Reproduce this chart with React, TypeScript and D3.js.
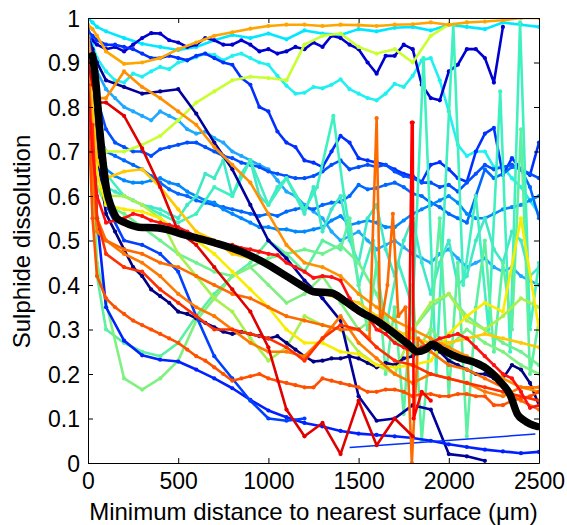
import React, { useEffect, useRef } from 'react';
import * as d3 from 'd3';

// distance grids (µm)
const distGrid = [0, 25, 50, 100, 200, 300, 400, 500, 600, 700, 800, 900, 1000, 1100, 1200, 1300, 1400, 1500, 1600, 1700, 1800, 1900, 2000, 2100, 2200, 2300, 2400, 2500];
const fineGrid = [0, 25, 50, 100, 150, 200, 250, 300, 350, 400, 450, 500, 550, 600, 650, 700, 750, 800, 850, 900, 950, 1000, 1050, 1100, 1150, 1200, 1250, 1300, 1350, 1400, 1450, 1500, 1550, 1600, 1650, 1700, 1750, 1800, 1850, 1900, 1950, 2000, 2050, 2100, 2150, 2200, 2250, 2300, 2350, 2400, 2450, 2500];

const xTicks = [0, 500, 1000, 1500, 2000, 2500];
const xTickLabels = ['0', '500', '1000', '1500', '2000', '2500'];
const yTicks = [0, 0.1, 0.2, 0.3, 0.4, 0.5, 0.6, 0.7, 0.8, 0.9, 1];
const yTickLabels = ['0', '0.1', '0.2', '0.3', '0.4', '0.5', '0.6', '0.7', '0.8', '0.9', '1'];

// traces on distGrid
const orangeTop = [0.985, 0.975, 0.96, 0.925, 0.897, 0.9, 0.91, 0.93, 0.945, 0.96, 0.968, 0.976, 0.982, 0.985, 0.985, 0.982, 0.985, 0.984, 0.982, 0.985, 0.986, 0.99, 0.985, 0.99, 0.992, 0.995, 1.0, 1.0];
const cyanTop = [1.0, 0.99, 0.98, 0.97, 0.955, 0.942, 0.935, 0.928, 0.935, 0.95, 0.962, 0.955, 0.965, 0.952, 0.972, 0.965, 0.962, 0.975, 0.97, 0.978, 0.98, 0.972, 0.985, 0.98, 0.975, 0.99, 0.985, 0.98];
const navy1 = [0.96, 0.93, 0.9, 0.86, 0.845, 0.83, 0.835, 0.84, 0.785, 0.72, 0.66, 0.58, 0.5, 0.46, 0.41, 0.37, 0.32, 0.15, 0.095, 0.1, 0.13, 0.12, 0.02, 0.015, 0.005, null, null, null];
const blueLow = [0.98, 0.8, 0.55, 0.35, 0.275, 0.242, 0.232, 0.228, 0.21, 0.19, 0.168, 0.142, 0.118, 0.103, 0.09, 0.082, 0.072, 0.066, 0.063, 0.06, 0.056, 0.05, 0.042, 0.036, 0.03, 0.026, 0.022, 0.025];
const blueEarly = [0.97, 0.9, 0.75, 0.58, 0.5, 0.49, 0.47, 0.43, 0.33, 0.24, 0.19, 0.14, 0.1, 0.095, 0.1, null, null, null, null, null, null, null, null, null, null, null, null, null];
const lightGreen = [0.95, 0.7, 0.45, 0.36, 0.19, 0.165, 0.19, 0.23, 0.32, 0.37, 0.42, 0.44, 0.4, 0.36, 0.38, 0.42, 0.36, 0.3, 0.33, 0.28, 0.24, 0.3, 0.26, 0.3, 0.27, 0.25, 0.22, 0.2];
const yellow = [0.93, 0.8, 0.65, 0.58, 0.57, 0.565, 0.55, 0.52, 0.5, 0.47, 0.43, 0.39, 0.35, 0.3, 0.27, 0.27, 0.25, 0.245, 0.22, 0.215, 0.22, 0.23, 0.29, 0.33, 0.36, 0.34, 0.55, 0.3];
const yellowOrange = [0.95, 0.8, 0.68, 0.64, 0.655, 0.66, 0.62, 0.57, 0.52, 0.5, 0.47, 0.46, 0.45, 0.42, 0.4, 0.38, 0.37, 0.36, 0.33, 0.3, 0.28, 0.27, 0.27, 0.28, 0.29, 0.28, 0.27, 0.26];
const orangeMid = [0.96, 0.88, 0.82, 0.82, 0.88, 0.845, 0.82, 0.79, 0.76, 0.71, 0.67, 0.63, 0.56, 0.49, 0.45, 0.44, 0.42, 0.38, 0.35, 0.32, 0.3, 0.28, 0.26, 0.24, 0.22, 0.19, 0.17, 0.16];
const red = [0.9, 0.85, 0.81, 0.81, 0.78, 0.707, 0.62, 0.52, 0.49, 0.44, 0.39, 0.34, 0.26, 0.12, 0.06, 0.09, 0.02, 0.14, 0.04, 0.1, 0.06, null, null, null, null, null, null, null];
const redOrange2 = [0.73, 0.76, 0.55, 0.47, 0.44, 0.43, 0.39, 0.36, 0.33, 0.3, 0.3, 0.29, 0.28, 0.26, 0.23, 0.28, 0.31, 0.3, 0.26, 0.23, 0.22, 0.2, 0.19, 0.18, 0.17, 0.16, 0.15, 0.14];
const orange2 = [0.9, 0.65, 0.52, 0.5, 0.47, 0.45, 0.42, 0.38, 0.35, 0.33, 0.3, 0.27, 0.25, 0.25, 0.24, 0.28, 0.33, 0.27, 0.235, 0.2, 0.18, 0.2, 0.19, 0.18, 0.16, 0.15, 0.17, 0.17];
const lime = [0.9, 0.75, 0.62, 0.6, 0.6, 0.58, 0.55, 0.47, 0.42, 0.37, 0.34, 0.28, 0.23, 0.26, 0.33, 0.31, 0.3, 0.25, 0.22, 0.2, 0.3, 0.36, 0.38, 0.32, 0.3, 0.33, 0.37, 0.35];
const greenMid = [0.92, 0.75, 0.62, 0.58, 0.56, 0.53, 0.5, 0.47, 0.45, 0.43, 0.42, 0.44, 0.46, 0.47, 0.48, 0.47, 0.49, 0.45, 0.38, 0.28, 0.3, 0.35, 0.38, 0.33, 0.3, 0.27, 0.25, 0.22];
const yellowGreen = [0.8, 0.78, 0.74, 0.7, 0.7, 0.715, 0.735, 0.77, 0.81, 0.835, 0.86, 0.868, 0.865, 0.86, 0.94, 0.96, 0.965, 0.935, 0.92, 0.93, 0.9, 0.96, 0.985, 0.99, null, null, null, null];

// traces on fineGrid
const cyanWave = [0.97, 0.94, 0.91, 0.88, 0.86, 0.855, 0.875, 0.868, 0.88, 0.89, 0.885, 0.9, 0.905, 0.912, 0.92, 0.917, 0.905, 0.915, 0.92, 0.91, 0.9, 0.895, 0.87, 0.848, 0.83, 0.832, 0.845, 0.842, 0.85, 0.862, 0.84, 0.83, 0.82, 0.815, 0.83, 0.852, 0.845, 0.87, 0.905, 0.91, 0.86, 0.79, 0.715, 0.69, 0.7, 0.7, 0.665, 0.665, 0.64, 0.62, 0.59, 0.56];
const navyTop = [0.96, 0.95, 0.94, 0.93, 0.935, 0.925, 0.94, 0.955, 0.966, 0.965, 0.95, 0.945, 0.935, 0.94, 0.955, 0.95, 0.94, 0.94, 0.95, 0.94, 0.925, 0.93, 0.92, 0.925, 0.935, 0.93, 0.945, 0.935, 0.96, 0.955, 0.94, 0.93, 0.9, 0.875, 0.915, 0.915, 0.94, 0.93, 0.85, 0.82, 0.815, 0.88, 0.895, 0.93, 0.93, 0.91, 0.855, 0.98, null, null, null, null];
const blueDrop = [0.97, 0.96, 0.95, 0.94, 0.94, 0.935, 0.93, 0.92, 0.91, 0.91, 0.915, 0.91, 0.905, 0.915, 0.92, 0.91, 0.9, 0.895, 0.865, 0.85, 0.8, 0.79, 0.745, 0.72, 0.71, 0.68, 0.675, 0.665, 0.7, 0.735, 0.72, 0.685, 0.68, 0.675, 0.67, 0.66, 0.65, 0.645, 0.632, 0.67, 0.676, 0.66, 0.64, 0.632, 0.7, 0.74, 0.753, 0.647, 0.685, 0.66, 0.647, 0.72];
const blue2 = [0.95, 0.9, 0.82, 0.75, 0.72, 0.71, 0.7, 0.7, 0.69, 0.705, 0.71, 0.715, 0.72, 0.72, 0.71, 0.7, 0.69, 0.685, 0.675, 0.67, 0.665, 0.655, 0.65, 0.645, 0.64, 0.64, 0.645, 0.655, 0.67, 0.68, 0.66, 0.665, 0.67, 0.665, 0.67, 0.655, 0.645, 0.64, 0.63, 0.63, 0.62, 0.625, 0.61, 0.63, 0.65, 0.67, 0.66, 0.665, 0.67, 0.66, 0.65, 0.64];
const blue3 = [0.93, 0.85, 0.75, 0.7, 0.69, 0.68, 0.67, 0.66, 0.645, 0.63, 0.615, 0.605, 0.6, 0.59, 0.585, 0.58, 0.575, 0.57, 0.565, 0.56, 0.555, 0.56, 0.555, 0.565, 0.57, 0.575, 0.57, 0.58, 0.585, 0.587, 0.6, 0.625, 0.615, 0.618, 0.625, 0.63, 0.62, 0.605, 0.6, 0.585, 0.575, 0.56, 0.55, 0.54, 0.6, 0.66, 0.64, 0.65, 0.665, 0.66, 0.62, 0.55];
const lightBlue = [0.95, 0.85, 0.72, 0.66, 0.645, 0.635, 0.63, 0.63, 0.635, 0.64, 0.63, 0.625, 0.61, 0.6, 0.59, 0.585, 0.57, 0.56, 0.55, 0.54, 0.53, 0.53, 0.525, 0.525, 0.52, 0.52, 0.525, 0.53, 0.545, 0.555, 0.535, 0.54, 0.545, 0.54, 0.53, 0.53, 0.545, 0.56, 0.57, 0.58, 0.59, 0.6, 0.585, 0.56, 0.55, 0.55, 0.56, 0.57, 0.575, 0.58, 0.59, 0.6];
const skyBlue = [0.97, 0.93, 0.88, 0.84, 0.82, 0.8, 0.79, 0.78, 0.77, 0.79, 0.78, 0.77, 0.75, 0.74, 0.745, 0.73, 0.72, 0.7, 0.69, 0.68, 0.67, 0.66, 0.635, 0.61, 0.6, 0.58, 0.565, 0.55, 0.52, 0.5, 0.51, 0.52, 0.5, 0.48, 0.49, 0.5, 0.485, 0.47, 0.46, 0.45, 0.47, 0.48, 0.46, 0.44, 0.45, 0.46, 0.44, 0.43, 0.44, 0.42, 0.41, 0.4];
const aquaMid = [0.9, 0.8, 0.7, 0.62, 0.61, 0.6, 0.59, 0.58, 0.575, 0.57, 0.56, 0.55, 0.58, 0.6, 0.65, 0.64, 0.68, 0.6, 0.65, 0.68, 0.6, 0.58, 0.62, 0.64, 0.6, 0.56, 0.62, 0.52, 0.57, 0.6, 0.5, 0.45, 0.55, 0.58, 0.48, 0.42, 0.5, 0.55, 0.45, 0.38, 0.45, 0.5, 0.4, 0.42, 0.5, 0.55, 0.48, 0.45, 0.52, 0.5, 0.42, 0.44];
const navy2 = [0.95, 0.85, 0.7, 0.56, 0.52, 0.48, 0.44, 0.42, 0.39, 0.375, 0.36, 0.34, 0.335, 0.325, 0.315, 0.305, 0.295, 0.29, 0.295, 0.29, 0.285, 0.28, 0.285, 0.27, 0.255, 0.24, 0.228, 0.23, 0.235, 0.235, 0.24, 0.235, 0.225, 0.215, 0.225, 0.22, 0.235, 0.24, 0.255, 0.26, 0.25, 0.23, 0.22, 0.21, 0.2, 0.2, 0.19, 0.19, 0.22, 0.21, 0.18, 0.13];
const red2 = [0.85, 0.7, 0.6, 0.54, 0.545, 0.55, 0.56, 0.555, 0.545, 0.54, 0.535, 0.53, 0.52, 0.51, 0.5, 0.5, 0.49, 0.49, 0.483, 0.48, 0.475, 0.47, 0.467, 0.45, 0.44, 0.43, 0.416, 0.42, 0.418, 0.41, 0.37, 0.34, 0.33, 0.3, 0.29, 0.27, 0.26, 0.25, 0.26, 0.27, 0.28, 0.285, 0.29, 0.28, 0.26, 0.24, 0.22, 0.2, 0.19, 0.16, 0.124, 0.13];
const redOrange = [0.8, 0.55, 0.42, 0.37, 0.35, 0.335, 0.32, 0.31, 0.3, 0.29, 0.28, 0.27, 0.255, 0.24, 0.23, 0.215, 0.2, 0.185, 0.19, 0.195, 0.2, 0.19, 0.185, 0.18, 0.175, 0.17, 0.17, 0.19, 0.185, 0.18, 0.175, 0.17, 0.16, 0.16, 0.165, 0.165, 0.16, 0.15, 0.155, 0.155, 0.15, 0.15, 0.155, 0.155, 0.15, 0.15, 0.13, 0.13, 0.14, 0.145, 0.15, 0.16];

// traces with their own distance samples (sharp spikes)
const aquaZigX = [0, 25, 50, 100, 200, 300, 400, 500, 600, 700, 800, 900, 1000, 1100, 1200, 1270, 1360, 1420, 1500, 1580, 1650, 1720, 1800, 1860, 1930, 2025, 2080, 2150, 2220, 2285, 2340, 2395, 2450, 2500];
const aquaZigY = [0.93, 0.85, 0.75, 0.65, 0.6, 0.58, 0.56, 0.54, 0.56, 0.62, 0.6, 0.68, 0.58, 0.64, 0.57, 0.62, 0.78, 0.6, 0.4, 0.5, 0.3, 0.45, 0.35, 0.91, 0.2, 0.985, 0.4, 0.6, 0.3, 0.835, 0.25, 0.99, 0.3, 0.45];
const greenZigX = [0, 25, 50, 100, 200, 300, 400, 500, 600, 700, 800, 900, 1000, 1100, 1200, 1300, 1400, 1450, 1500, 1550, 1600, 1650, 1700, 1750, 1800, 1850, 1900, 1950, 2000, 2050, 2100, 2150, 2200, 2250, 2300, 2350, 2400, 2450, 2500];
const greenZigY = [0.9, 0.6, 0.42, 0.3, 0.27, 0.25, 0.24, 0.27, 0.33, 0.38, 0.42, 0.45, 0.5, 0.47, 0.43, 0.5, 0.48, 0.55, 0.4, 0.3, 0.45, 0.2, 0.35, 0.11, 0.4, 0.05, 0.3, 0.55, 0.15, 0.45, 0.06, 0.35, 0.5, 0.25, 0.45, 0.3, 0.75, 0.2, 0.32];
const orangeSpikeX = [0, 25, 50, 100, 200, 300, 400, 500, 600, 700, 800, 900, 1000, 1100, 1200, 1300, 1400, 1500, 1560, 1600, 1620, 1660, 1690, 1720, 1760, 1795, 1830, 1900, 2000, 2100, 2200, 2300, 2400, 2500];
const orangeSpikeY = [0.92, 0.7, 0.55, 0.5, 0.48, 0.47, 0.45, 0.44, 0.42, 0.4, 0.38, 0.37, 0.35, 0.33, 0.32, 0.31, 0.3, 0.3, 0.28, 0.775, 0.3, 0.4, 0.56, 0.33, 0.35, 0.0, 0.28, 0.25, 0.22, 0.21, 0.19, 0.17, 0.14, 0.12];
const redSpikeX = [1720, 1780, 1795, 1800, 1805, 1850, 1900];
const redSpikeY = [0.28, 0.26, 0.765, 0.765, 0.1, 0.16, 0.14];
const thinBlueX = [1450, 2480];
const thinBlueY = [0.035, 0.065];

// average over all particles
const meanX = [25, 45, 65, 85, 105, 130, 160, 205, 280, 390, 540, 700, 850, 1000, 1100, 1200, 1250, 1350, 1420, 1510, 1600, 1690, 1780, 1825, 1870, 1910, 1960, 2060, 2150, 2210, 2280, 2340, 2380, 2420, 2490];
const meanY = [0.915, 0.85, 0.75, 0.67, 0.61, 0.575, 0.55, 0.54, 0.53, 0.528, 0.512, 0.495, 0.475, 0.445, 0.42, 0.395, 0.385, 0.382, 0.365, 0.34, 0.32, 0.294, 0.265, 0.25, 0.255, 0.267, 0.255, 0.236, 0.225, 0.212, 0.185, 0.153, 0.11, 0.095, 0.082];

type Trace = { color: string; x: number[]; y: (number | null)[]; width?: number; dots?: boolean };

const traces: Trace[] = [
  { color: '#00e8ff', x: distGrid, y: cyanTop },
  { color: '#20f0f0', x: fineGrid, y: cyanWave },
  { color: '#0000d0', x: fineGrid, y: navyTop },
  { color: '#0030ff', x: fineGrid, y: blueDrop },
  { color: '#20a8ff', x: fineGrid, y: skyBlue },
  { color: '#0050ff', x: fineGrid, y: blue2 },
  { color: '#0068ff', x: fineGrid, y: blue3 },
  { color: '#0088ff', x: fineGrid, y: lightBlue },
  { color: '#40e8c8', x: fineGrid, y: aquaMid },
  { color: '#40f0c0', x: aquaZigX, y: aquaZigY },
  { color: '#5cf0a0', x: greenZigX, y: greenZigY },
  { color: '#70f090', x: distGrid, y: greenMid },
  { color: '#80f080', x: distGrid, y: lightGreen },
  { color: '#a8f050', x: distGrid, y: lime },
  { color: '#c8ff30', x: distGrid, y: yellowGreen },
  { color: '#00009a', x: distGrid, y: navy1 },
  { color: '#000080', x: fineGrid, y: navy2 },
  { color: '#0020ff', x: distGrid, y: blueLow },
  { color: '#0040ff', x: distGrid, y: blueEarly },
  { color: '#0030ff', x: thinBlueX, y: thinBlueY, width: 1.5, dots: false },
  { color: '#f8ec00', x: distGrid, y: yellow },
  { color: '#ffc800', x: distGrid, y: yellowOrange },
  { color: '#ff9000', x: distGrid, y: orangeMid },
  { color: '#ff7800', x: distGrid, y: orange2 },
  { color: '#ff6a00', x: orangeSpikeX, y: orangeSpikeY },
  { color: '#ff5000', x: fineGrid, y: redOrange },
  { color: '#ff3000', x: distGrid, y: redOrange2 },
  { color: '#ff1010', x: fineGrid, y: red2 },
  { color: '#e00000', x: distGrid, y: red },
  { color: '#ff0000', x: redSpikeX, y: redSpikeY },
  { color: '#ffa500', x: distGrid, y: orangeTop },
];

export default function App() {
  const ref = useRef<SVGSVGElement>(null);

  useEffect(() => {
    if (!ref.current) return;
    document.body.style.margin = '0';

    const svg = d3.select(ref.current);
    svg.selectAll('*').remove();

    const margin = { top: 18, right: 28, bottom: 62, left: 88 };
    const width = 567 - margin.left - margin.right;
    const height = 525 - margin.top - margin.bottom;
    const font = 'Arial, "Liberation Sans", sans-serif';

    const x = d3.scaleLinear().domain([0, 2500]).range([0, width]);
    const y = d3.scaleLinear().domain([0, 1]).range([height, 0]);

    const g = svg.append('g').attr('transform', `translate(${margin.left},${margin.top})`);

    g.append('clipPath').attr('id', 'plot-area')
      .append('rect').attr('x', 0).attr('y', 0).attr('width', width).attr('height', height);

    const plot = g.append('g').attr('clip-path', 'url(#plot-area)');

    const line = d3.line<[number, number | null]>()
      .defined(d => d[1] != null)
      .x(d => x(d[0]))
      .y(d => y(d[1] as number));

    traces.forEach(t => {
      const pts: [number, number | null][] = t.x.map((xv, i) => [xv, t.y[i]]);
      plot.append('path')
        .datum(pts)
        .attr('d', line)
        .attr('fill', 'none')
        .attr('stroke', t.color)
        .attr('stroke-width', t.width ?? 2.6)
        .attr('stroke-linejoin', 'round');
      if (t.dots !== false) {
        plot.append('g')
          .selectAll('circle')
          .data(pts.filter(p => p[1] != null))
          .enter()
          .append('circle')
          .attr('cx', d => x(d[0]))
          .attr('cy', d => y(d[1] as number))
          .attr('r', 2.1)
          .attr('fill', t.color);
      }
    });

    // mean curve
    const meanPts: [number, number][] = meanX.map((xv, i) => [xv, meanY[i]]);
    plot.append('path')
      .datum(meanPts)
      .attr('d', d3.line<[number, number]>().x(d => x(d[0])).y(d => y(d[1])).curve(d3.curveMonotoneX))
      .attr('fill', 'none')
      .attr('stroke', '#000')
      .attr('stroke-width', 7.5)
      .attr('stroke-linecap', 'round')
      .attr('stroke-linejoin', 'round');

    // axes (box with inward ticks)
    const styleAxis = (sel: any) => {
      sel.select('.domain').attr('stroke', '#000').attr('stroke-width', 1);
      sel.selectAll('.tick line').attr('stroke', '#000');
      sel.selectAll('text')
        .attr('font-size', 23)
        .attr('font-family', font)
        .attr('fill', '#000');
    };

    g.append('g')
      .attr('transform', `translate(0,${height})`)
      .call(d3.axisBottom(x).tickValues(xTicks).tickSizeInner(-5).tickSizeOuter(0).tickPadding(10)
        .tickFormat((_, i) => xTickLabels[i]))
      .call(styleAxis);

    g.append('g')
      .call(d3.axisLeft(y).tickValues(yTicks).tickSizeInner(-5).tickSizeOuter(0).tickPadding(8)
        .tickFormat((_, i) => yTickLabels[i]))
      .call(styleAxis)
      .selectAll('text').attr('dy', '0.36em');

    g.append('g')
      .call(d3.axisTop(x).tickValues(xTicks).tickSizeInner(-5).tickSizeOuter(0).tickFormat(() => ''))
      .call(styleAxis);

    g.append('g')
      .attr('transform', `translate(${width},0)`)
      .call(d3.axisRight(y).tickValues(yTicks).tickSizeInner(-5).tickSizeOuter(0).tickFormat(() => ''))
      .call(styleAxis);

    // axis titles
    svg.append('text')
      .attr('x', margin.left + width / 2)
      .attr('y', 520)
      .attr('text-anchor', 'middle')
      .attr('font-size', 24)
      .attr('font-family', font)
      .attr('fill', '#000')
      .text('Minimum distance to nearest surface (μm)');

    svg.append('text')
      .attr('transform', `translate(30,${margin.top + height / 2 + 1}) rotate(-90)`)
      .attr('text-anchor', 'middle')
      .attr('font-size', 24)
      .attr('font-family', font)
      .attr('fill', '#000')
      .text('Sulphide dissolution');
  }, []);

  return <svg ref={ref} width={567} height={525} style={{ display: 'block', background: '#fff' }} />;
}
